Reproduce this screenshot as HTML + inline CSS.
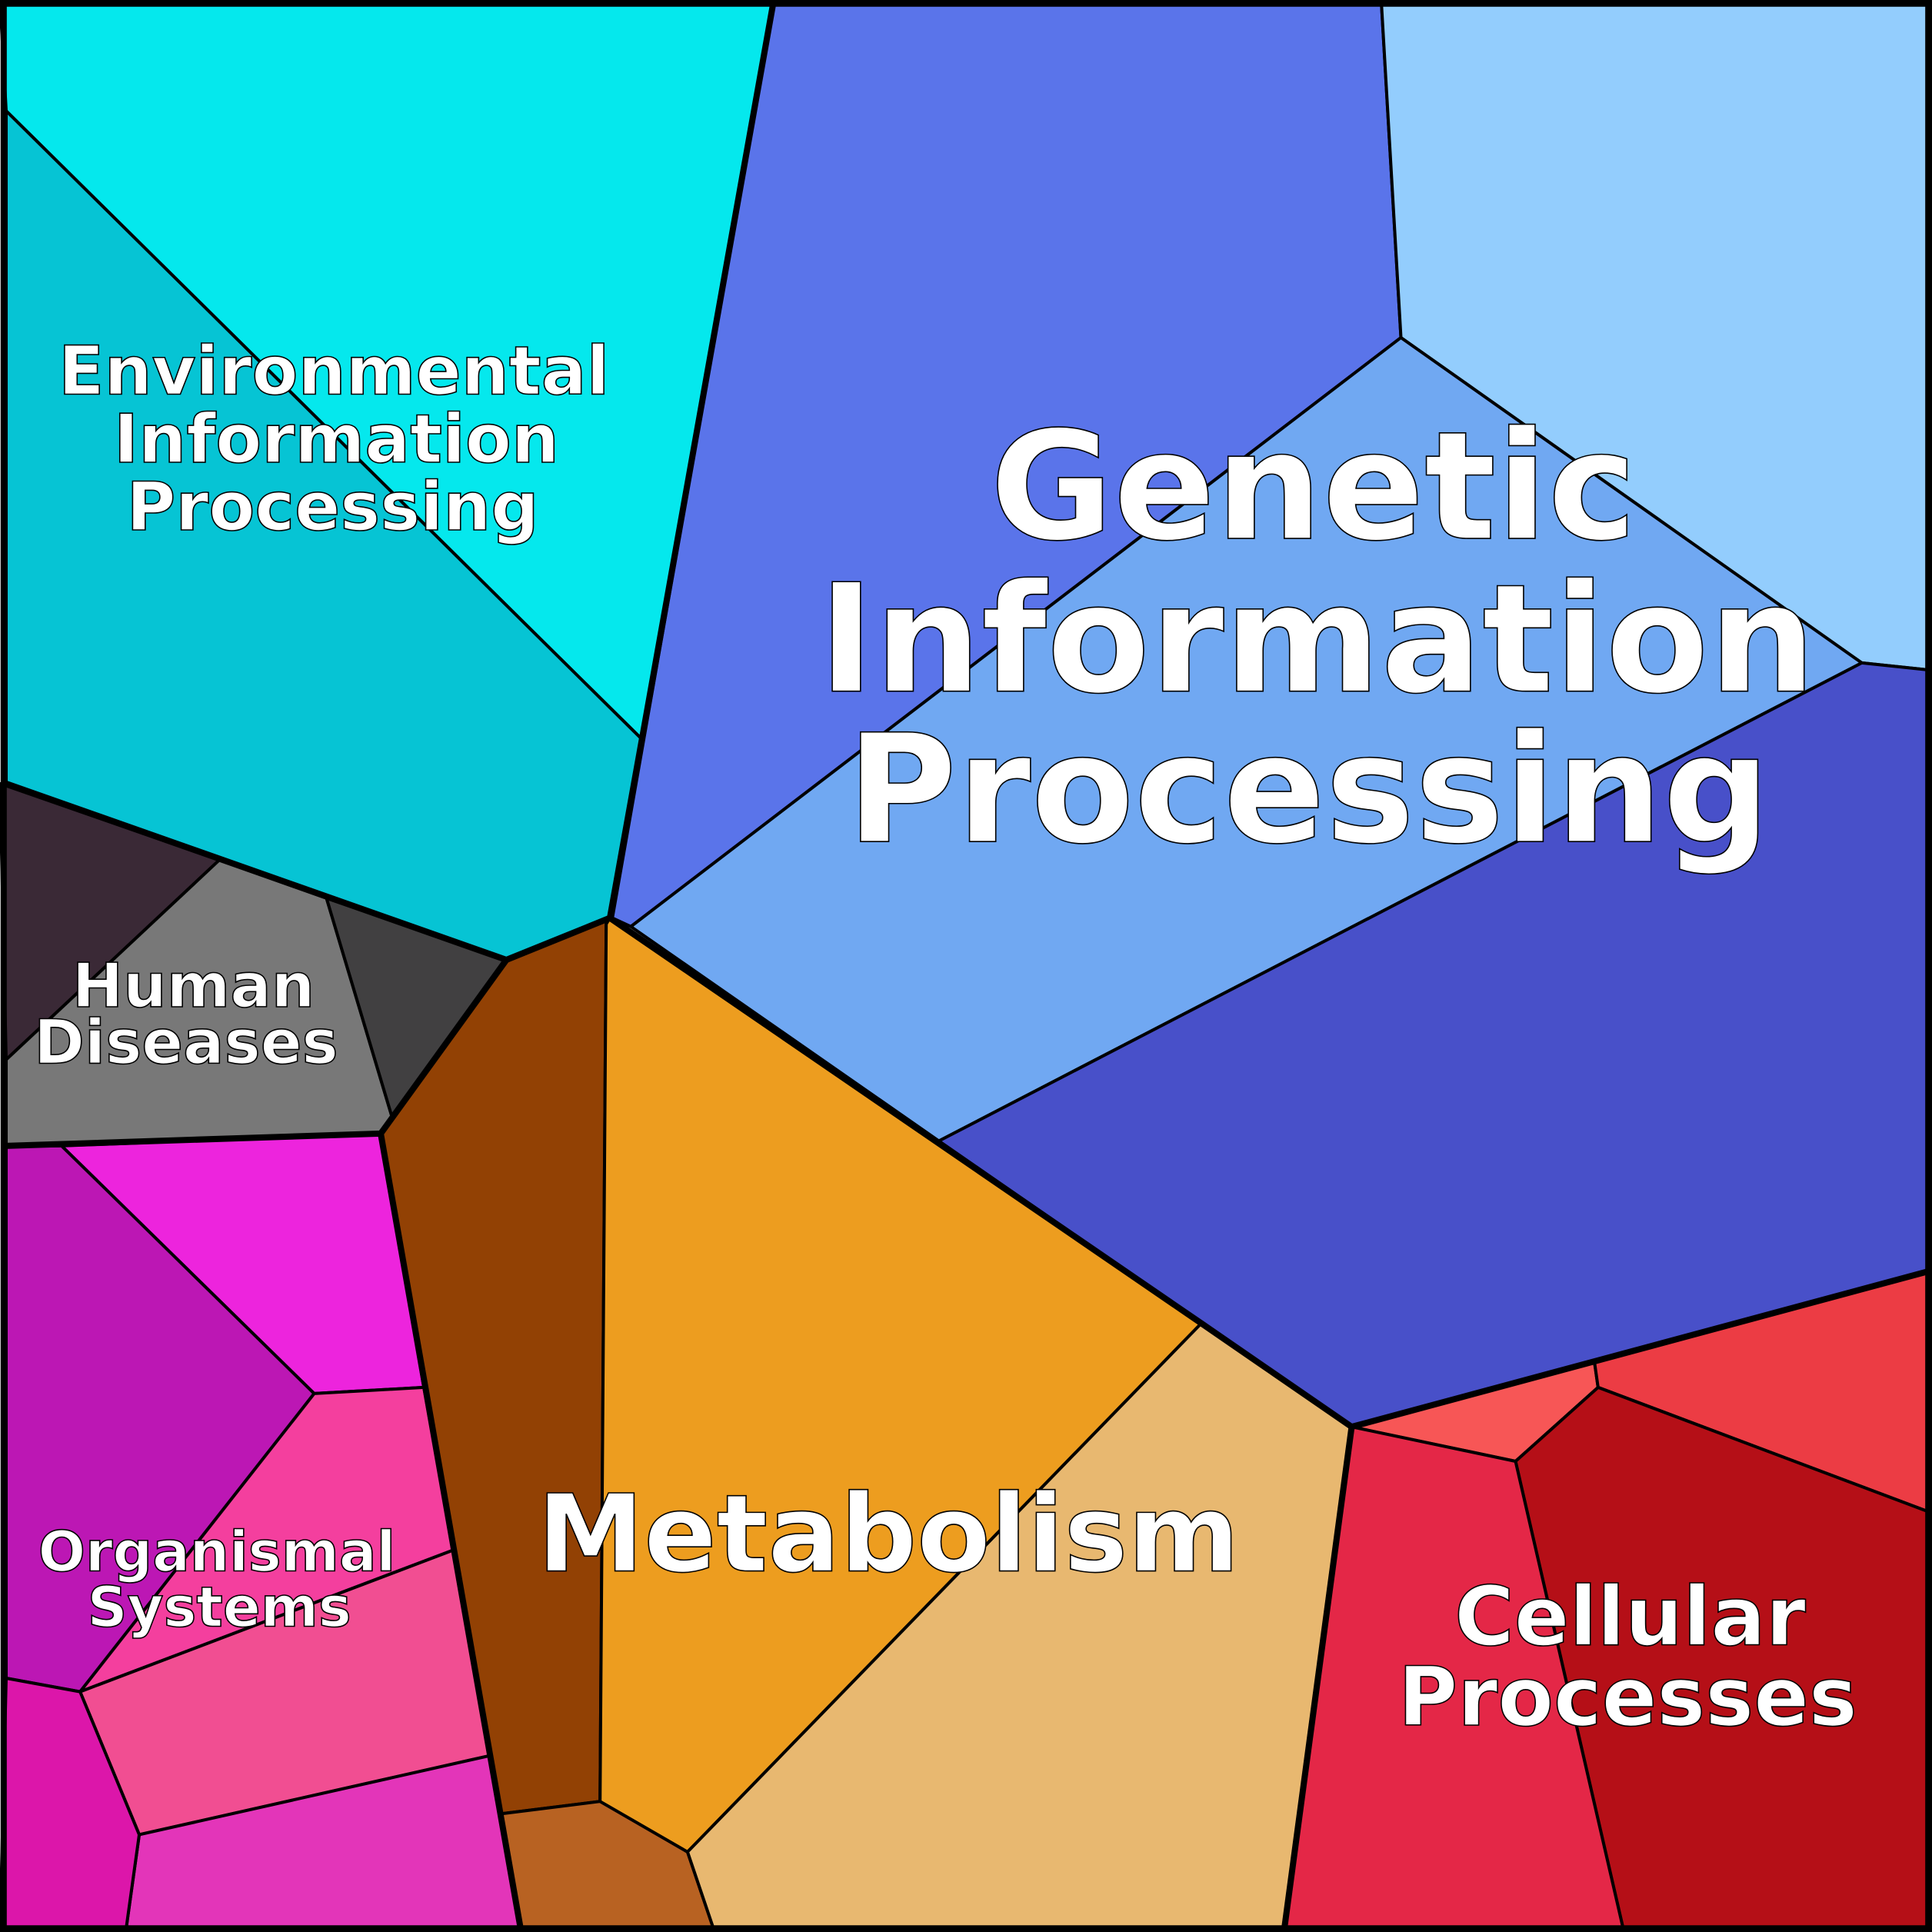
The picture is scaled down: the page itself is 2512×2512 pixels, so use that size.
<!DOCTYPE html>
<html><head><meta charset="utf-8"><style>html,body{margin:0;padding:0;background:#fff}svg{display:block}</style></head>
<body>
<svg width="2512" height="2512" viewBox="0 0 1568 1568" xmlns="http://www.w3.org/2000/svg">
<g stroke="#000" stroke-width="2.5" stroke-linejoin="round">
<polygon fill="#05e8ed" points="0,0 628,0 521,600 5,90"/>
<polygon fill="#06c4d4" points="5,90 521,600 495,745 411,779 5,636"/>
<polygon fill="#3a2936" points="0,636 178,698 5,860"/>
<polygon fill="#787878" points="178,698 265,729 318,906 309,920 5,930 5,860"/>
<polygon fill="#414041" points="265,729 411,779 318,906"/>
<polygon fill="#ed24dd" points="50,930 309,920 344,1126 255,1131"/>
<polygon fill="#bc17b4" points="5,930 50,930 255,1131 65,1373 5,1362"/>
<polygon fill="#f43f9e" points="255,1131 344,1126 368,1258 65,1373"/>
<polygon fill="#f14e92" points="65,1373 368,1258 397,1425 113,1489"/>
<polygon fill="#e335b9" points="113,1489 397,1425 423,1568 102,1568"/>
<polygon fill="#dc16aa" points="5,1362 65,1373 113,1489 102,1568 0,1568"/>
<polygon fill="#924104" points="309,920 411,779 495,745 492,750 487,1462 407,1472"/>
<polygon fill="#b86222" points="407,1472 487,1462 558,1503 580,1568 423,1568"/>
<polygon fill="#ed9d1f" points="495,745 762,926 975,1074 558,1503 487,1462 492,750"/>
<polygon fill="#e8b870" points="975,1074 1097,1158 1042,1568 580,1568 558,1503"/>
<polygon fill="#5a74ea" points="628,0 1121,0 1137,274 512,752 497,745"/>
<polygon fill="#93cdfd" points="1121,0 1568,0 1568,544 1511,538 1137,274"/>
<polygon fill="#70a8f2" points="1137,274 1511,538 762,926 512,752"/>
<polygon fill="#4850c9" points="1511,538 1568,544 1568,1031 1097,1158 762,926"/>
<polygon fill="#f75656" points="1097,1158 1294,1105 1297,1126 1230,1186"/>
<polygon fill="#ec3c44" points="1294,1105 1568,1031 1568,1228 1297,1126"/>
<polygon fill="#b50f17" points="1297,1126 1568,1228 1568,1568 1318,1568 1230,1186"/>
<polygon fill="#e42747" points="1097,1158 1230,1186 1318,1568 1042,1568"/>
</g>
<g fill="none" stroke="#000" stroke-width="5" stroke-linejoin="round">
<polyline points="628,0 521,600 495,745 411,779 5,636"/>
<polyline points="411,779 309,920 5,930"/>
<polyline points="309,920 423,1568"/>
<polyline points="495,745 975,1074 1097,1158 1568,1031"/>
<polyline points="1097,1158 1042,1568"/>
<rect x="3" y="3" width="1562" height="1562"/>
</g>
<g font-family="'DejaVu Sans','Liberation Sans',sans-serif" font-weight="bold" fill="#fff" stroke="#000" stroke-width="1" text-anchor="middle">
<text font-size="122" x="1066" y="437">Genetic</text>
<text font-size="122" x="1069" y="561">Information</text>
<text font-size="122" x="1062" y="683">Processing</text>
<text font-size="87" x="721" y="1275">Metabolism</text>
<text font-size="66" x="1323" y="1335">Cellular</text>
<text font-size="66" x="1321" y="1400">Processes</text>
<text font-size="54.5" x="271" y="320">Environmental</text>
<text font-size="54.5" x="273" y="375">Information</text>
<text font-size="54.5" x="270" y="430">Processing</text>
<text font-size="49.5" x="157" y="817">Human</text>
<text font-size="49.5" x="151" y="863">Diseases</text>
<text font-size="45" x="176" y="1275">Organismal</text>
<text font-size="45" x="178" y="1320">Systems</text>
</g>
</svg>
</body></html>
